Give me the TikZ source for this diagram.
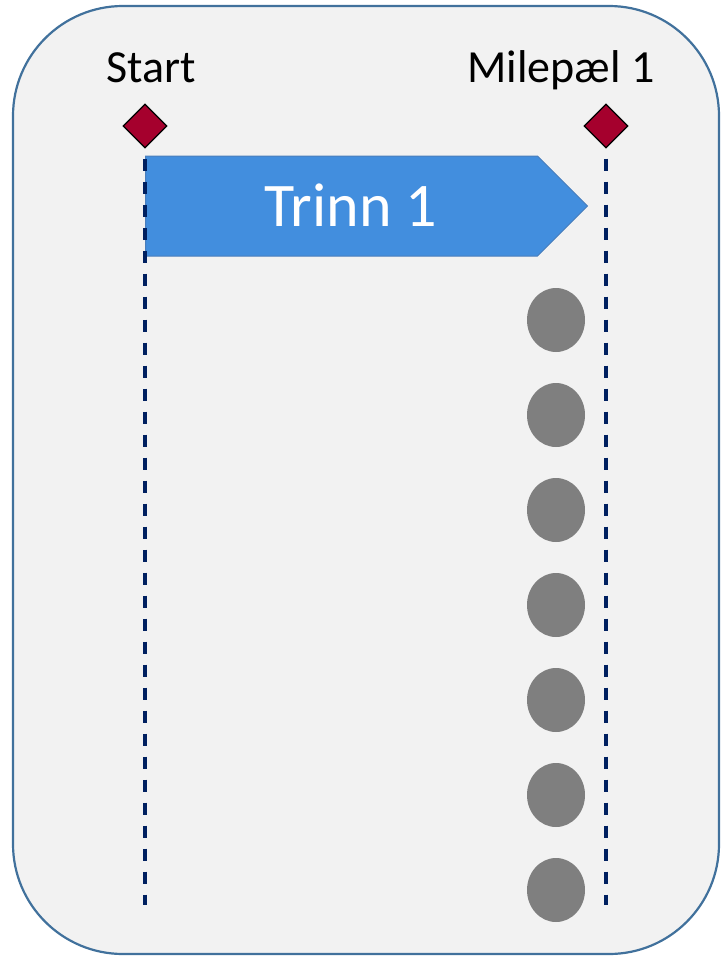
\documentclass[tikz,border=0pt]{standalone}
\usepackage{fontspec}
\setmainfont{Carlito}
\usepackage{tikz}
\usetikzlibrary{arrows.meta,positioning,calc,shapes.geometric,shapes.symbols}
\definecolor{Frame}{RGB}{65,113,156}
\definecolor{Panel}{RGB}{242,242,242}
\definecolor{Phase}{RGB}{66,142,222}
\definecolor{PhaseLine}{RGB}{74,126,187}
\definecolor{Mile}{RGB}{165,0,45}
\definecolor{Navy}{RGB}{0,32,96}
\definecolor{Dot}{RGB}{127,127,127}
\tikzset{
  milestone/.style={diamond,draw=black,fill=Mile,line width=1.2pt,minimum size=44pt,inner sep=0pt},
  mlabel/.style={font=\fontsize{46}{50}\selectfont,anchor=base,inner sep=0pt},
  phase/.style={signal,signal to=east,signal pointer angle=90,fill=Phase,draw=PhaseLine,
    line width=1pt,minimum width=442pt,minimum height=100pt,inner sep=0pt},
  guide/.style={Navy,line width=3.3pt,dash pattern=on 12pt off 11pt},
  dotstep/.style={ellipse,fill=Dot,minimum width=58pt,minimum height=64pt,inner sep=0pt},
}

\begin{document}
\begin{tikzpicture}[x=1pt,y=-1pt]
			\useasboundingbox (0,0) rectangle (721,956);
			% Ramme
			\draw[Frame,fill=Panel,line width=2.2pt,rounded corners=110pt] (13,6) rectangle (719,954);
			% Milepæler
			\node[milestone] (start) at (145,126) {};
			\node[milestone] (mp1) at (606,126) {};
			\node[mlabel] (startlbl) at (151,82) {Start};
			\node[mlabel] (mp1lbl) at (561,82) {Milepæl 1};
			% Trinn
			\node[phase,anchor=west] (trinn) at (145,206) {};
			\node[anchor=base,inner sep=0pt,text=white,font=\fontsize{62}{68}\selectfont] (trinnlbl) at (351,226) {Trinn 1};
			% Stiplede linjer
			\coordinate (startend) at (145,905);
			\coordinate (mp1end) at (606,905);
			\draw[guide] (start.south) ++(0,10) -- (startend);
			\draw[guide] (mp1.south) ++(0,10) -- (mp1end);
			% Prikker
			\foreach \i in {0,...,6} {
					\node[dotstep] (dot\i) at (556,{320+95*\i}) {};
				}
		\end{tikzpicture}
\end{document}
